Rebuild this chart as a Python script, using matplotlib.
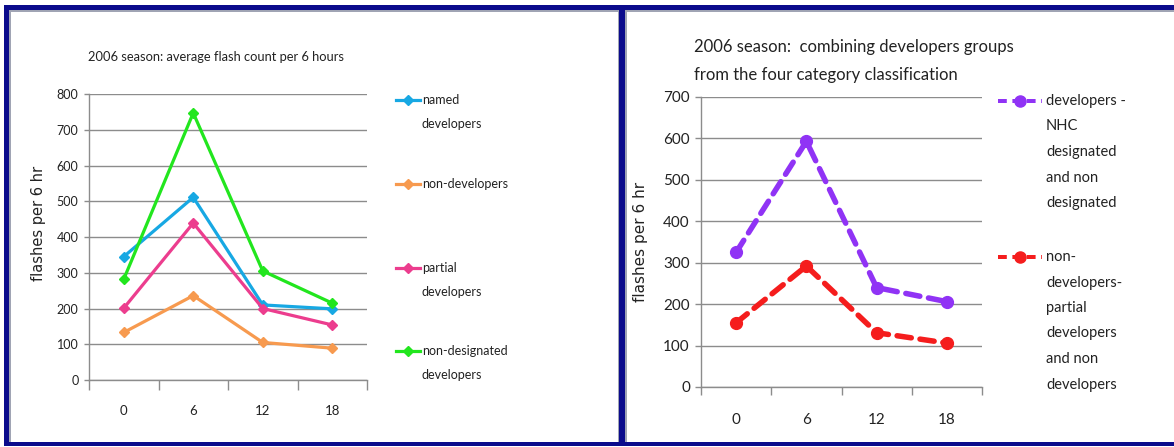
import matplotlib
matplotlib.use("Agg")
import matplotlib.pyplot as plt
from matplotlib.lines import Line2D
from matplotlib.patches import Rectangle

# ---------------- data ----------------
hours = ['0', '6', '12', '18']
named_dev = [345, 511, 210, 199]
non_dev = [133, 236, 105, 89]
partial_dev = [201, 439, 200, 154]
non_desig_dev = [282, 747, 305, 215]

comb_dev = [325, 593, 240, 206]
comb_nondev = [155, 292, 131, 106]

left_labels = [['named', 'developers'], ['non-developers'],
               ['partial', 'developers'], ['non-designated', 'developers']]
right_labels = [['developers -', 'NHC', 'designated', 'and non', 'designated'],
                ['non-', 'developers-', 'partial', 'developers', 'and non', 'developers']]

left_title = '2006 season: average flash count per 6 hours'
right_title = ['2006 season:  combining developers groups',
               'from the four category classification']
ylabel = 'flashes per 6 hr'

# ---------------- layout ----------------
W, H = 1174, 447
fig = plt.figure(figsize=(W / 100, H / 100), dpi=100)
fig.patch.set_facecolor('white')


def fx(px):
    return px / W


def fy(py):
    return 1 - py / H


def px2pt(p):
    return p * 72 / 100


FONT = ['Lato', 'DejaVu Sans']
TXT = '#222222'
GRID = '#8c8c8c'

# borders
blue = '#0b0b8c'
shadow = '#a0a4b4'
for (x0, y0, x1, y1, c) in [
    (4, 10, 1174, 11.5, shadow),
    (9, 10, 10.5, 442, shadow),
    (617.5, 10, 619, 442, shadow),
    (625, 10, 626.5, 442, shadow),
    (4, 5, 1174, 10, blue),
    (4, 5, 9, 446, blue),
    (619, 5, 625, 446, blue),
    (4, 442, 1174, 446, blue),
]:
    fig.add_artist(Rectangle((fx(x0), fy(y1)), fx(x1) - fx(x0), fy(y0) - fy(y1),
                             transform=fig.transFigure, facecolor=c,
                             edgecolor='none', zorder=10))


def style_axes(ax, ymax, ystep, tick_fs, xtick_fs, tick_len_y, tick_len_x, xpad):
    x = list(range(len(hours)))
    ax.set_xlim(-0.5, len(hours) - 0.5)
    ax.set_ylim(0, ymax)
    ax.set_yticks(range(0, ymax + 1, ystep))
    ax.set_xticks(x)
    ax.set_xticklabels(hours)
    ax.set_xticks([i - 0.5 for i in range(len(hours) + 1)], minor=True)
    ax.tick_params(axis='x', which='major', length=0, pad=xpad,
                   labelsize=xtick_fs, labelcolor=TXT)
    ax.tick_params(axis='x', which='minor', length=tick_len_x, direction='out',
                   color=GRID, width=1)
    ax.tick_params(axis='y', length=tick_len_y, direction='out', color=GRID,
                   width=1, labelsize=tick_fs, labelcolor=TXT, pad=4)
    for lab in ax.get_xticklabels() + ax.get_yticklabels():
        lab.set_family(FONT)
    ax.grid(axis='y', color=GRID, lw=1)
    ax.set_axisbelow(True)
    for s in ['top', 'right']:
        ax.spines[s].set_visible(False)
    for s in ['left', 'bottom']:
        ax.spines[s].set_color(GRID)
        ax.spines[s].set_linewidth(1)
    return x


# ---------------- left chart ----------------
axL = fig.add_axes([fx(89), fy(380), fx(367) - fx(89), fy(94) - fy(380)])
xL = style_axes(axL, 800, 100, 9, 9.5, 3.5, 7, 18)
left_series = [named_dev, non_dev, partial_dev, non_desig_dev]
left_colors = ['#17a8e3', '#f79a4f', '#ec3d8e', '#22e61e']
for vals, c in zip(left_series, left_colors):
    axL.plot(xL, vals, color=c, lw=px2pt(3.2), marker='D', markersize=5.5,
             markerfacecolor=c, markeredgecolor=c, clip_on=False, zorder=3)
axL.set_ylabel(ylabel, family='DejaVu Sans', fontsize=10.5, color=TXT)
axL.yaxis.set_label_coords(fx(46), fy(223), transform=fig.transFigure)
fig.text(fx(88), fy(57), left_title, family=FONT, fontsize=9.3, color=TXT,
         ha='left', va='center')

# left legend (manual, Excel style: marker aligned with first text line)
left_first = [100, 184, 268, 351]
for lines, c, y0 in zip(left_labels, left_colors, left_first):
    fig.add_artist(Line2D([fx(396), fx(408), fx(420)], [fy(y0)] * 3,
                          transform=fig.transFigure, color=c, lw=px2pt(3.2),
                          marker='D', markersize=5.5, markevery=[1]))
    for k, t in enumerate(lines):
        fig.text(fx(422), fy(y0 + 24 * k), t, family=FONT, fontsize=9,
                 color=TXT, ha='left', va='center')

# ---------------- right chart ----------------
axR = fig.add_axes([fx(701), fy(387), fx(982) - fx(701), fy(97) - fy(387)])
xR = style_axes(axR, 700, 100, 11, 11, 4, 6, 19)
right_series = [comb_dev, comb_nondev]
right_colors = ['#9033f5', '#f51d1d']
for vals, c in zip(right_series, right_colors):
    axR.plot(xR, vals, color=c, lw=px2pt(5.5), ls=(0, (2.6, 1.6)),
             dash_capstyle='round', marker='o', markersize=8.5,
             markerfacecolor=c, markeredgecolor=c, clip_on=False, zorder=3)
axR.set_ylabel(ylabel, family='DejaVu Sans', fontsize=11, color=TXT)
axR.yaxis.set_label_coords(fx(648), fy(242), transform=fig.transFigure)
for k, t in enumerate(right_title):
    fig.text(fx(694), fy(47 + 28 * k), t, family=FONT, fontsize=12,
             color=TXT, ha='left', va='center')

right_first = [101, 257]
for lines, c, y0 in zip(right_labels, right_colors, right_first):
    fig.add_artist(Line2D([fx(998), fx(1020), fx(1042)], [fy(y0)] * 3,
                          transform=fig.transFigure, color=c, lw=px2pt(4),
                          ls=(0, (2.2, 1.4)), marker='o', markersize=8,
                          markevery=[1]))
    for k, t in enumerate(lines):
        fig.text(fx(1046), fy(y0 + 25.5 * k), t, family=FONT, fontsize=10.5,
                 color=TXT, ha='left', va='center')

fig.savefig('out.png', dpi=100, facecolor='white')
